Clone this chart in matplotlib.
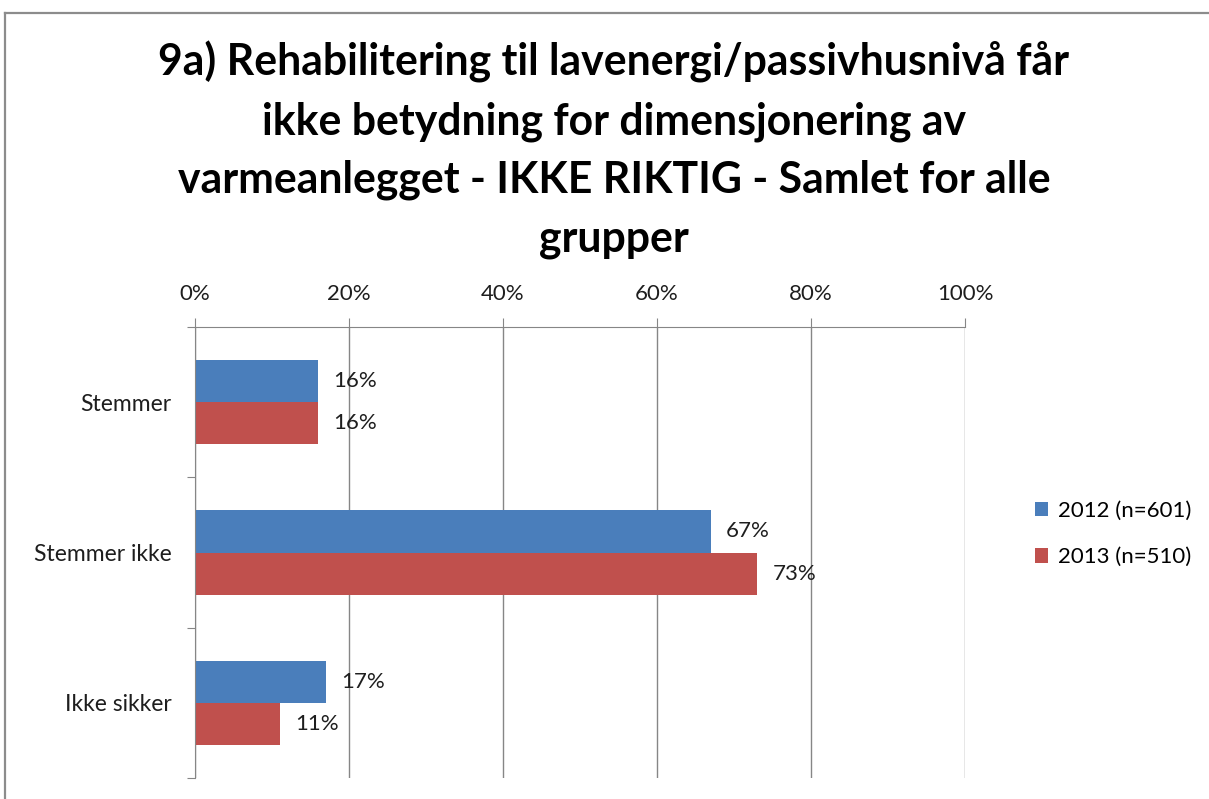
import matplotlib
matplotlib.use("Agg")
import matplotlib.pyplot as plt
from matplotlib.lines import Line2D
import numpy as np

categories = ["Stemmer", "Stemmer ikke", "Ikke sikker"]
series_names = ["2012 (n=601)", "2013 (n=510)"]
values_2012 = [16, 67, 17]
values_2013 = [16, 73, 11]
x_ticks = [0, 20, 40, 60, 80, 100]
title = ("9a) Rehabilitering til lavenergi/passivhusnivå får\n"
         "ikke betydning for dimensjonering av\n"
         "varmeanlegget - IKKE RIKTIG - Samlet for alle\n"
         "grupper")

blue = "#4A7EBB"
red = "#C0504D"
grid_col = "#868686"
text_col = "#1E1E1E"
font = "Lato"

W, H = 1209, 799
fig = plt.figure(figsize=(W / 100, H / 100), dpi=100)

# outer chart frame (only top and left edges are inside the picture)
frame_top = 1 - 13 / H
frame_left = 5 / W
fig.add_artist(Line2D([frame_left, 1.01], [frame_top, frame_top], transform=fig.transFigure,
                      color="#8C8C8C", linewidth=1.6))
fig.add_artist(Line2D([frame_left, frame_left], [-0.01, frame_top], transform=fig.transFigure,
                      color="#8C8C8C", linewidth=1.6))

ax = fig.add_axes([195 / W, 1 - 778 / H, (965 - 195) / W, (778 - 327) / H])

y = np.arange(len(categories))
h = 0.28
b1 = ax.barh(y - h / 2, values_2012, height=h, color=blue, label=series_names[0])
b2 = ax.barh(y + h / 2, values_2013, height=h, color=red, label=series_names[1])

for bars, vals in ((b1, values_2012), (b2, values_2013)):
    for bar, v in zip(bars, vals):
        ax.annotate(f"{v}%", (bar.get_width(), bar.get_y() + bar.get_height() / 2),
                    xytext=(11, 0), textcoords="offset points", va="center", ha="left",
                    fontsize=16, family=font, color=text_col)

ax.set_xlim(0, 100)
ax.set_ylim(len(categories) - 0.5, -0.5)
ax.xaxis.tick_top()
ax.set_xticks(x_ticks)
ax.set_xticklabels([f"{t}%" for t in x_ticks], fontsize=16, family=font, color=text_col)
ax.tick_params(axis="x", length=6.5, color=grid_col, pad=10)
ax.grid(axis="x", color=grid_col, linewidth=1)
ax.set_axisbelow(True)

ax.set_yticks(np.arange(len(categories) + 1) - 0.5)
ax.set_yticklabels([])
ax.set_yticks(y, minor=True)
ax.set_yticklabels(categories, minor=True, fontsize=16.5, family=font, color=text_col)
ax.tick_params(axis="y", which="major", length=6, color=grid_col)
ax.tick_params(axis="y", which="minor", length=0, pad=17)

for s in ("right", "bottom"):
    ax.spines[s].set_visible(False)
for s in ("top", "left"):
    ax.spines[s].set_color(grid_col)

fig.text(614 / W, 1 - 150 / H, title, ha="center", va="center", fontsize=30.8,
         fontweight="bold", family=font, linespacing=1.55)

fig.legend(handles=[b1, b2], labels=series_names, loc="center left",
           bbox_to_anchor=(1026 / W, 1 - 534 / H), frameon=False,
           prop={"family": font, "size": 16}, handlelength=0.6, handleheight=0.6,
           labelspacing=1.2, handletextpad=0.45, borderaxespad=0)

fig.savefig("out.png", dpi=100)
